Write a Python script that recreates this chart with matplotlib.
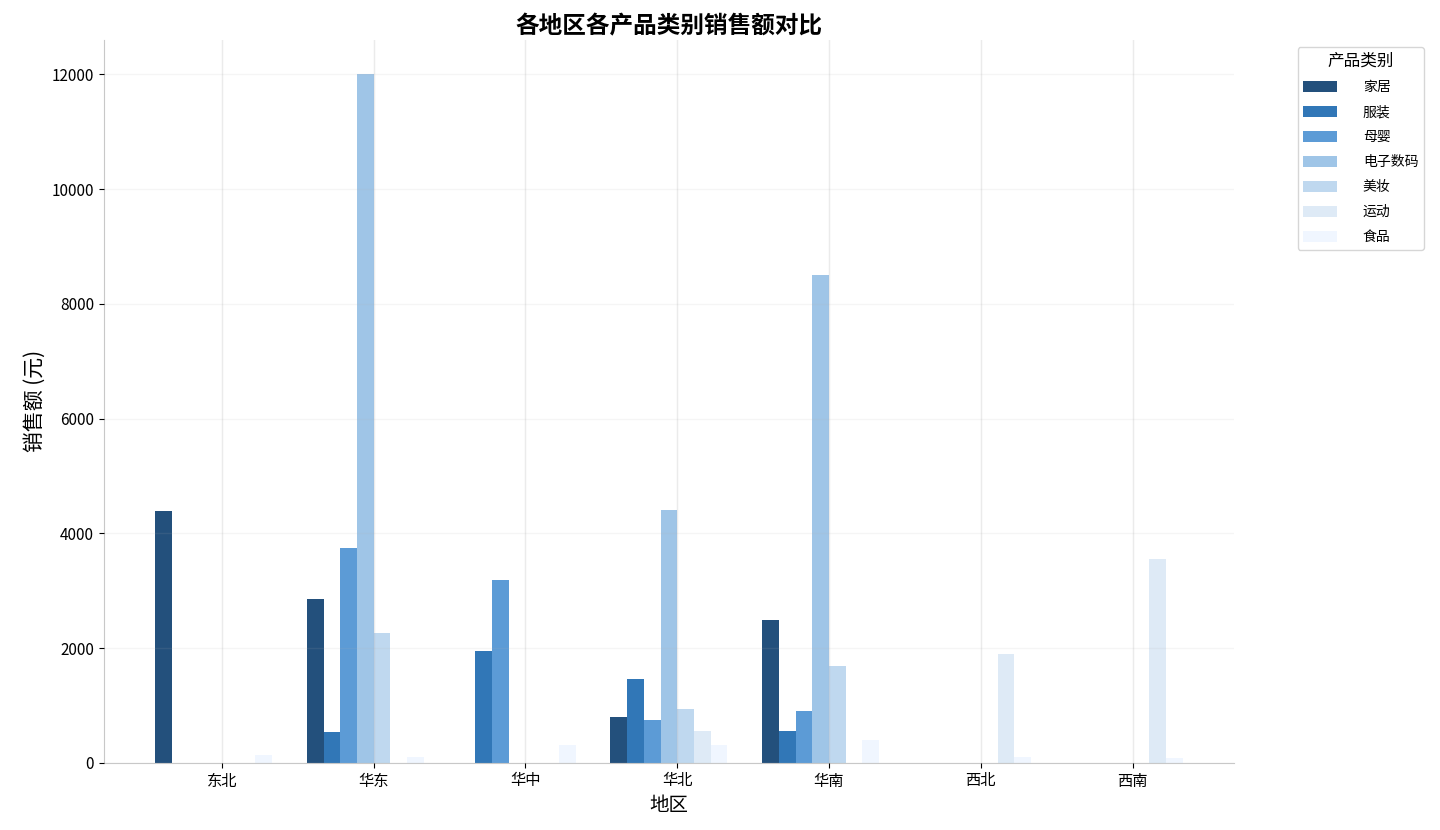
import numpy as np
import matplotlib
matplotlib.use("Agg")
import matplotlib.pyplot as plt

plt.rcParams['font.family'] = ['Noto Sans CJK SC', 'DejaVu Sans']
plt.rcParams['axes.unicode_minus'] = False

regions = ["东北", "华东", "华中", "华北", "华南", "西北", "西南"]
categories = ["家居", "服装", "母婴", "电子数码", "美妆", "运动", "食品"]

# 销售额 (元), one list per product category, in region order
home = [4380, 2850, 0, 800, 2490, 0, 0]
clothing = [0, 530, 1940, 1460, 560, 0, 0]
baby = [0, 3750, 3180, 740, 910, 0, 0]
digital = [0, 12000, 0, 4400, 8500, 0, 0]
beauty = [0, 2270, 0, 930, 1680, 0, 0]
sports = [0, 0, 0, 550, 0, 1890, 3550]
food = [140, 100, 315, 310, 400, 105, 80]

series = [home, clothing, baby, digital, beauty, sports, food]
colors = ["#0b3d6e", "#1a68b0", "#4a90d2", "#95bfe5", "#b8d4ee", "#dbe8f6", "#eff6ff"]

fig, ax = plt.subplots(figsize=(14.4, 8.3), dpi=100)
fig.subplots_adjust(left=0.072, right=0.857, top=0.952, bottom=0.081)

x = np.arange(len(regions))
w = 0.11
n = len(categories)
for i, (name, vals) in enumerate(zip(categories, series)):
    ax.bar(x + (i - n / 2) * w, vals, width=w, color=colors[i], alpha=0.9,
           label=name, zorder=2)

ax.set_xticks(x)
ax.set_xticklabels(regions, fontsize=11)
ax.tick_params(axis='y', labelsize=11)
ax.set_ylim(0, 12600)
ax.set_yticks([0, 2000, 4000, 6000, 8000, 10000, 12000])

ax.grid(axis='x', color="#b0b0b0", alpha=0.25, linewidth=1, zorder=3)
ax.grid(axis='y', color="#b0b0b0", alpha=0.12, linewidth=1, zorder=3)
ax.set_axisbelow(False)

for s in ["top", "right"]:
    ax.spines[s].set_visible(False)
for s in ["left", "bottom"]:
    ax.spines[s].set_color("#c8c8c8")

ax.set_xlabel("地区", fontsize=14, labelpad=4)
ax.set_ylabel("销售额 (元)", fontsize=15)
ax.set_title("各地区各产品类别销售额对比", fontsize=17, fontweight='bold', pad=5)

leg = ax.legend(title="产品类别", bbox_to_anchor=(1.05, 1.0), loc="upper left",
                fontsize=10, title_fontsize=12, frameon=True,
                handlelength=2.45, handleheight=0.9, handletextpad=1.85,
                labelspacing=0.79)
leg.get_frame().set_edgecolor("#cccccc")

fig.savefig("out.png", dpi=100)
